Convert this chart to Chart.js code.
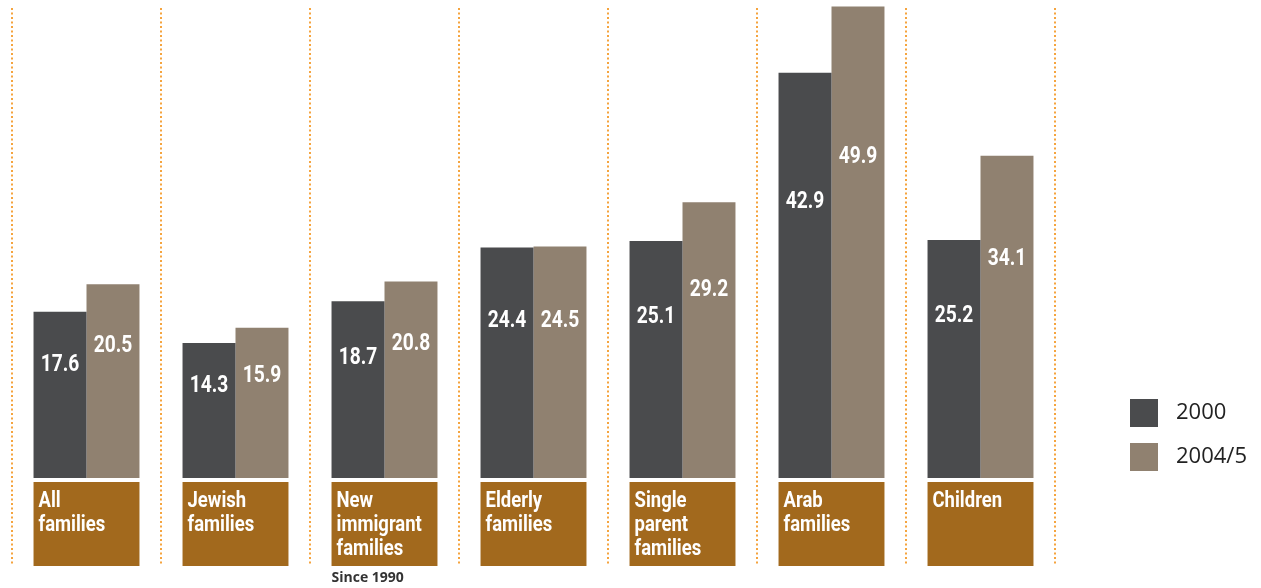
<!DOCTYPE html>
<html>
<head>
<meta charset="utf-8">
<script src="https://cdn.jsdelivr.net/npm/chart.js@4.4.1/dist/chart.umd.min.js"></script>
<style>
  body { margin: 0; background: #fff; }
  #wrap { position: relative; width: 1261px; height: 588px; }
  .leg { position: absolute; left: 1130px; font: 22px "Open Sans", "Noto Sans", sans-serif; color: #222; }
  .leg span { display: inline-block; width: 28px; height: 28px; vertical-align: middle; margin-right: 18px; }
</style>
</head>
<body>
<div id="wrap">
  <canvas id="myChart"></canvas>
  <div class="leg" style="top:395px"><span style="background:#4a4b4d"></span>2000</div>
  <div class="leg" style="top:439px"><span style="background:#908170"></span>2004/5</div>
</div>
<script>
// Datos del grafico
const categorias = [
  ["All", "families"],
  ["Jewish", "families"],
  ["New", "immigrant", "families"],
  ["Elderly", "families"],
  ["Single", "parent", "families"],
  ["Arab", "families"],
  ["Children"]
]
const serie2000 = [17.6, 14.3, 18.7, 24.4, 25.1, 42.9, 25.2]
const serie2004 = [20.5, 15.9, 20.8, 24.5, 29.2, 49.9, 34.1]
const notas = ["", "", "Since 1990", "", "", "", ""]

const colorOscuro = "#4a4b4d"
const colorTaupe = "#908170"
const colorCaja = "#a2691d"
const colorPuntos = "#f5a43e"

// Texto condensado: se dibuja escalado horizontalmente
const textoAngosto = (ctx, t, x, y, escala) => {
  ctx.save()
  ctx.translate(x, y)
  ctx.scale(escala, 1)
  ctx.fillText(t, 0, 0)
  ctx.restore()
}

// Plugin para lineas punteadas, cajas de categoria y valores
const decoracion = {
  id: "decoracion",
  beforeDatasetsDraw(chart) {
    const ctx = chart.ctx
    const x = chart.scales.x
    const paso = x.getPixelForValue(1) - x.getPixelForValue(0)
    ctx.save()
    ctx.strokeStyle = colorPuntos
    ctx.lineWidth = 2
    ctx.setLineDash([2, 2.5])
    for (let i = 0; i <= categorias.length; i++) {
      const px = Math.round(x.getPixelForValue(i) - paso / 2)
      ctx.beginPath()
      ctx.moveTo(px, 8)
      ctx.lineTo(px, 566)
      ctx.stroke()
    }
    ctx.restore()
  },
  afterDatasetsDraw(chart) {
    const ctx = chart.ctx
    const y = chart.scales.y
    const meta0 = chart.getDatasetMeta(0)
    const meta1 = chart.getDatasetMeta(1)
    ctx.save()
    // valores dentro de las barras
    ctx.fillStyle = "#fff"
    ctx.textAlign = "center"
    ctx.textBaseline = "middle"
    ctx.font = 'bold 24px Roboto, "DejaVu Sans", sans-serif'
    ;[meta0, meta1].forEach((meta, d) => {
      const valores = d === 0 ? serie2000 : serie2004
      meta.data.forEach((bar, i) => {
        textoAngosto(ctx, valores[i].toFixed(1), bar.x, y.getPixelForValue(valores[i] * 0.68), 0.8)
      })
    })
    // cajas de categoria
    const base = chart.chartArea.bottom
    categorias.forEach((lineas, i) => {
      const b0 = meta0.data[i]
      const b1 = meta1.data[i]
      const izq = b0.x - b0.width / 2
      const der = b1.x + b1.width / 2
      ctx.fillStyle = colorCaja
      ctx.fillRect(izq, base + 4, der - izq, 84)
      ctx.fillStyle = "#fff"
      ctx.textAlign = "left"
      ctx.textBaseline = "alphabetic"
      ctx.font = 'bold 22px Roboto, "DejaVu Sans", sans-serif'
      lineas.forEach((t, j) => {
        textoAngosto(ctx, t, izq + 5, base + 29 + j * 24, 0.84)
      })
      if (notas[i]) {
        ctx.fillStyle = "#333"
        ctx.font = 'bold 14px "Open Sans", "Noto Sans", sans-serif'
        ctx.fillText(notas[i], izq, base + 104)
      }
    })
    ctx.restore()
  }
}

const ctx = document.querySelector("#myChart").getContext("2d")
new Chart(ctx, {
  type: "bar",
  data: {
    labels: categorias.map(c => c.join(" ")),
    datasets: [
      { label: "2000", data: serie2000, backgroundColor: colorOscuro },
      { label: "2004/5", data: serie2004, backgroundColor: colorTaupe }
    ]
  },
  options: {
    responsive: true,
    maintainAspectRatio: false,
    animation: false,
    layout: { padding: { left: 12, right: 206, top: 0, bottom: 110 } },
    datasets: { bar: { categoryPercentage: 0.711, barPercentage: 1 } },
    plugins: { legend: { display: false }, tooltip: { enabled: false } },
    scales: {
      x: { display: false },
      y: { display: false, min: 0, max: 50.6 }
    }
  },
  plugins: [decoracion]
})
</script>
</body>
</html>
